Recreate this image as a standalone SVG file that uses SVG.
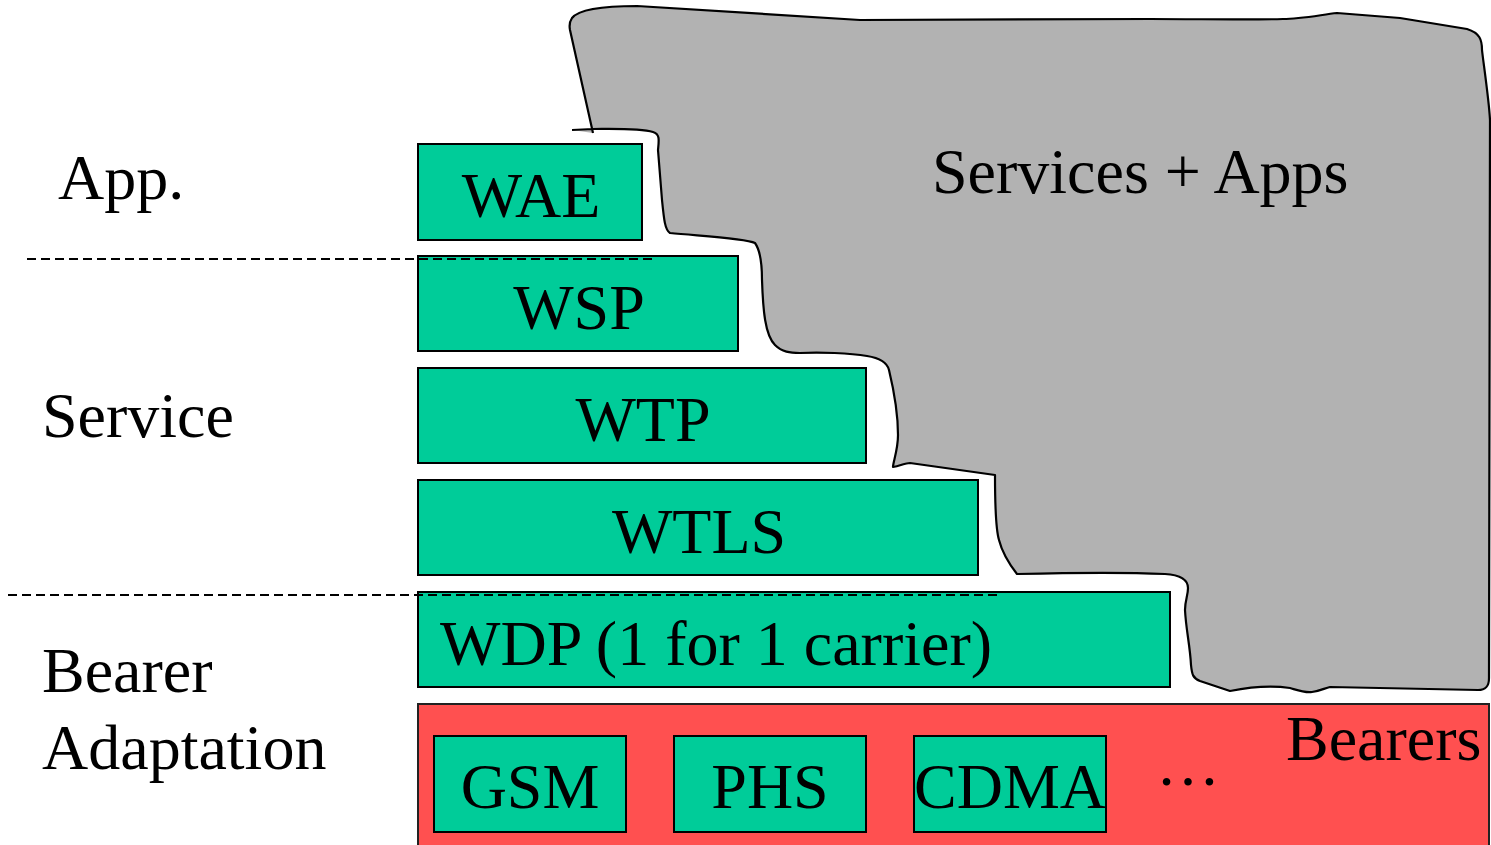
<svg xmlns="http://www.w3.org/2000/svg" width="1491" height="845" viewBox="0 0 1491 845">
  <style>
    .txt { font-family: "Liberation Serif", "Times New Roman", serif; font-size: 64px; fill: #000; }
    .mid { text-anchor: middle; }
    .layer { fill: #00CC99; stroke: #000; stroke-width: 2; }
    .bearer { fill: #FF5050; stroke: #222; stroke-width: 2; }
    .sep { stroke: #000; stroke-width: 2; stroke-dasharray: 9 5; fill: none; }
    .cloud { fill: #B2B2B2; stroke: #000; stroke-width: 2.2; stroke-linejoin: round; }
  </style>

  <!-- Hand-drawn services area -->
  <g id="services-apps">
    <path class="cloud" d="M 572,130 L 593,129 C 610,129 640,128 653,132 C 660,134 659,140 658,150 L 662,200 C 664,220 665,230 670,233 C 700,236 745,238 755,243 C 760,250 762,265 762,280 C 763,310 765,335 775,345 C 782,352 790,353 800,353 C 820,352 850,353 867,356 C 880,358 887,362 889,370 C 895,395 898,415 898,435 C 898,450 893,462 893,467 C 900,466 905,463 910,463 L 995,475 C 995,500 996,530 999,540 C 1002,552 1010,565 1017,574 C 1060,573 1120,572 1165,574 C 1180,575 1188,580 1188,588 C 1188,596 1185,600 1185,610 C 1186,630 1190,645 1191,665 C 1192,675 1193,678 1200,681 L 1230,691 C 1250,687 1270,685 1290,688 C 1300,691 1305,693 1312,692 C 1320,691 1325,688 1330,687 L 1478,690 C 1487,690 1489,685 1489,678 L 1490,120 C 1489,100 1483,60 1482,50 C 1482,40 1480,33 1467,29 L 1400,18 L 1337,13 C 1320,15 1300,19 1283,19 C 1250,20 1200,19 1150,19 L 860,20 L 637,6 C 610,6 580,8 572,18 C 570,21 569,25 570,30 L 593,133"/>
    <text class="txt" x="932" y="193">Services + Apps</text>
  </g>

  <!-- Layer labels -->
  <g id="label-app"><text class="txt" x="58" y="199">App.</text></g>
  <g id="label-service"><text class="txt" x="42" y="437">Service</text></g>
  <g id="label-bearer-adaptation">
    <text class="txt" x="42" y="692">Bearer</text>
    <text class="txt" x="42" y="769">Adaptation</text>
  </g>

  <!-- Protocol stack -->
  <g id="wae">
    <rect class="layer" x="418" y="144" width="224" height="96"/>
    <text class="txt mid" x="531" y="217">WAE</text>
  </g>
  <g id="wsp">
    <rect class="layer" x="418" y="256" width="320" height="95"/>
    <text class="txt mid" x="579" y="329">WSP</text>
  </g>
  <g id="wtp">
    <rect class="layer" x="418" y="368" width="448" height="95"/>
    <text class="txt mid" x="643" y="441">WTP</text>
  </g>
  <g id="wtls">
    <rect class="layer" x="418" y="480" width="560" height="95"/>
    <text class="txt mid" x="699" y="553">WTLS</text>
  </g>
  <g id="wdp">
    <rect class="layer" x="418" y="592" width="752" height="95"/>
    <text class="txt" x="440" y="665">WDP (1 for 1 carrier)</text>
  </g>

  <!-- Bearers -->
  <g id="bearers">
    <rect class="bearer" x="418" y="704" width="1071" height="150"/>
    <text class="txt" x="1286" y="760">Bearers</text>
    <text class="txt" x="1156" y="785">…</text>
  </g>
  <g id="gsm">
    <rect class="layer" x="434" y="736" width="192" height="96"/>
    <text class="txt mid" x="530" y="808">GSM</text>
  </g>
  <g id="phs">
    <rect class="layer" x="674" y="736" width="192" height="96"/>
    <text class="txt mid" x="770" y="808">PHS</text>
  </g>
  <g id="cdma">
    <rect class="layer" x="914" y="736" width="192" height="96"/>
    <text class="txt mid" x="1010" y="808">CDMA</text>
  </g>

  <!-- Layer separators -->
  <g id="connectors">
    <line class="sep" x1="27" y1="259" x2="652" y2="259"/>
    <line class="sep" x1="8" y1="595" x2="998" y2="595"/>
  </g>
</svg>
